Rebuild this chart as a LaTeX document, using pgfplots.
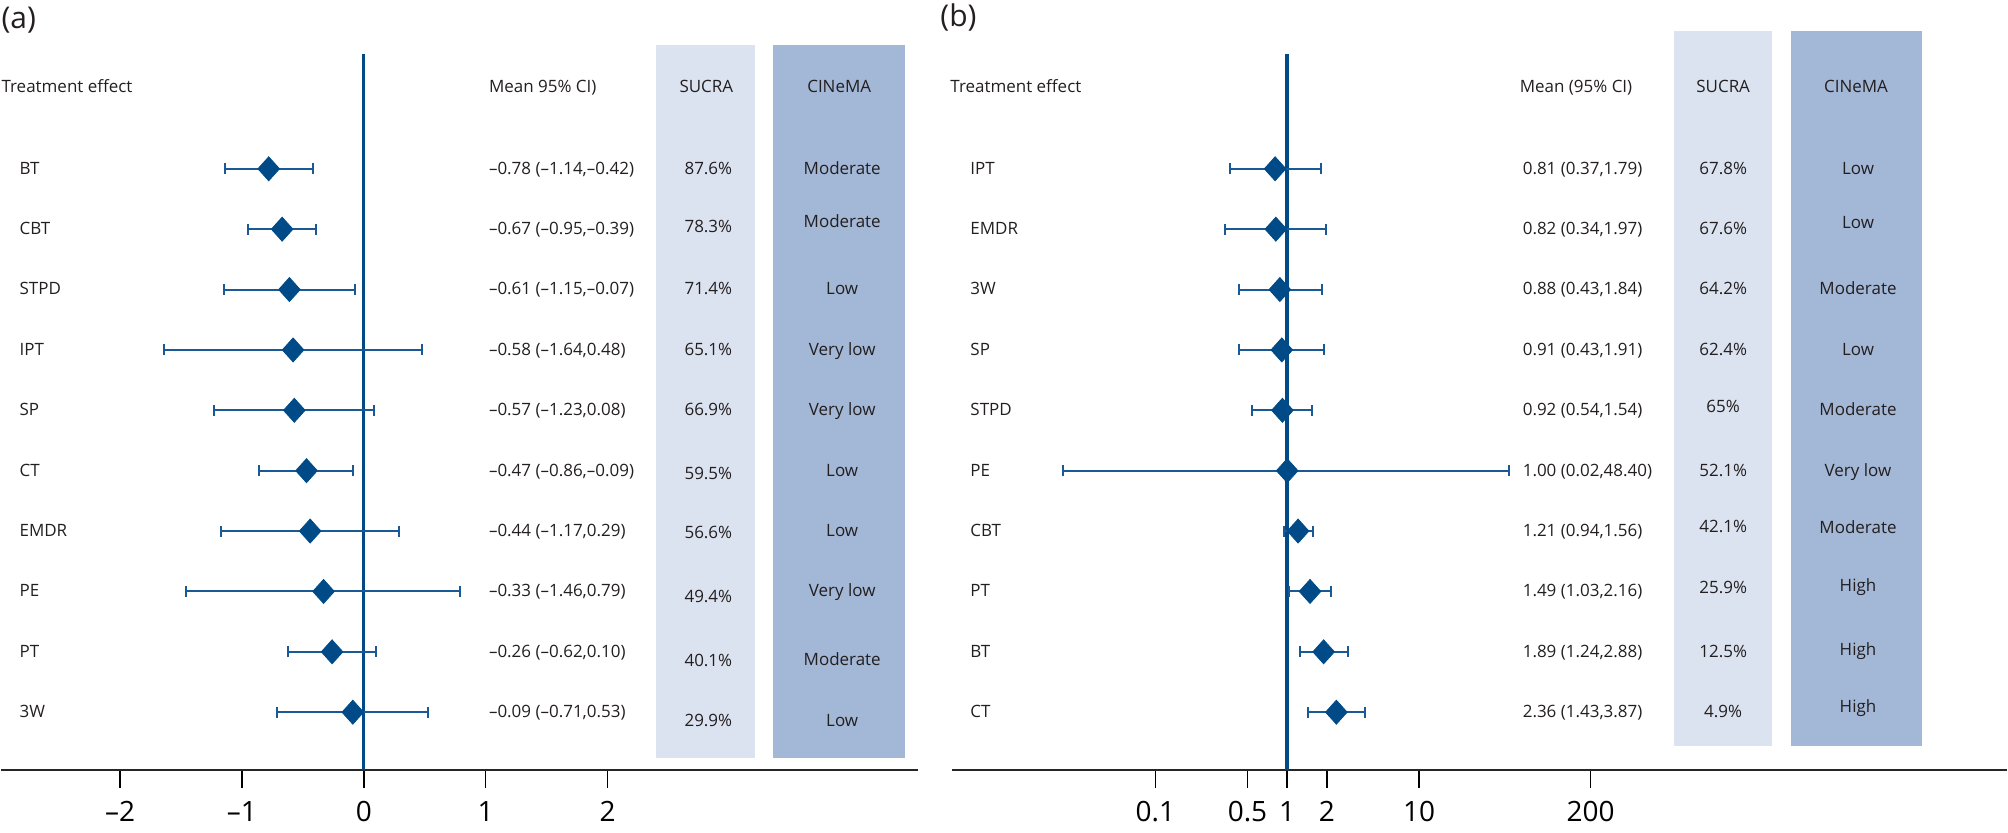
\documentclass[border=0pt]{standalone}
\usepackage{pgfplots}
\pgfplotsset{compat=1.18}
\usepackage{pgfplotstable}
\usepackage{fontspec}
\setmainfont{Open Sans}

\definecolor{fpblue}{RGB}{0,75,135}
\definecolor{cibar}{RGB}{25,90,150}
\definecolor{sucrabg}{RGB}{220,227,240}
\definecolor{cinemabg}{RGB}{163,183,214}
\definecolor{txt}{RGB}{35,31,32}

% panel (a): mean difference with 95% CI
\pgfplotstableread{
r m lo hi
1 -0.78 -1.14 -0.42
2 -0.67 -0.95 -0.39
3 -0.61 -1.15 -0.07
4 -0.58 -1.64 0.48
5 -0.57 -1.23 0.08
6 -0.47 -0.86 -0.09
7 -0.44 -1.17 0.29
8 -0.33 -1.46 0.79
9 -0.26 -0.62 0.10
10 -0.09 -0.71 0.53
}\tabA

% panel (b): ratio with 95% CI (log axis)
\pgfplotstableread{
r m lo hi
1 0.81 0.37 1.79
2 0.82 0.34 1.97
3 0.88 0.43 1.84
4 0.91 0.43 1.91
5 0.92 0.54 1.54
6 1.00 0.02 48.40
7 1.21 0.94 1.56
8 1.49 1.03 2.16
9 1.89 1.24 2.88
10 2.36 1.43 3.87
}\tabB

\pgfplotsset{
  forest/.style={
    scale only axis, clip=false,
    height=358.5pt,
    ymin=-10.9586, ymax=0.9024,
    axis y line=none, ytick=\empty,
    axis x line*=bottom,
    axis line style={line width=1.2pt, black!85},
    tick align=outside, major tick length=9pt,
    every tick/.style={black, line width=0.8pt},
    xticklabel style={font=\fontsize{14}{16}\selectfont, black, yshift=-3pt},
  },
  cis/.style={
    only marks, mark=diamond*, mark size=6pt,
    mark options={xscale=1.2, fill=fpblue, draw=fpblue},
    error bars/.cd, x dir=both, x explicit, error mark=|,
    error bar style={line width=1pt, cibar},
    error mark options={line width=1pt, mark size=2.75pt, cibar},
  },
}

\begin{document}
\begin{tikzpicture}[x=0.5pt, y=-0.5pt, every node/.style={text=txt, font=\fontsize{8.5}{10}\selectfont}]
\path (0,0) rectangle (2008,833);

% shaded columns
\fill[sucrabg] (656,45) rectangle (755,759);
\fill[cinemabg] (773,45) rectangle (905,759);
\fill[sucrabg] (1675,31) rectangle (1773,747);
\fill[cinemabg] (1792,31) rectangle (1923,747);

\begin{axis}[forest, at={(0pt,-385.5pt)}, anchor=south west,
  width=459pt, xmin=-2.9754, xmax=4.549,
  xtick={-2,-1,0,1,2}, xticklabels={–2,–1,0,1,2}]
\addplot[fpblue, line width=1.7pt, forget plot] coordinates {(0,-10.9586) (0,0.9024)};
\addplot[cis] table[x=m, y expr=-\thisrow{r},
  x error plus expr=\thisrow{hi}-\thisrow{m},
  x error minus expr=\thisrow{m}-\thisrow{lo}] {\tabA};
\end{axis}

\begin{axis}[forest, at={(476pt,-385.5pt)}, anchor=south west,
  width=528pt, xmode=log, xmin=0.002872, xmax=287300, xminorticks=false,
  xtick={0.1,0.5,1,2,10,200}, xticklabels={0.1,0.5,1,2,10,200}]
\addplot[fpblue, line width=1.7pt, forget plot] coordinates {(1,-10.9586) (1,0.9024)};
\addplot[cis] table[x=m, y expr=-\thisrow{r},
  x error plus expr=\thisrow{hi}-\thisrow{m},
  x error minus expr=\thisrow{m}-\thisrow{lo}] {\tabB};
\end{axis}

% panel labels
\node[anchor=west, inner sep=0pt, font=\fontsize{15}{17}\selectfont] at (0,20) {(a)};
\node[anchor=west, inner sep=0pt, font=\fontsize{15}{17}\selectfont] at (940,18) {(b)};

% headers
\node[anchor=mid west, inner sep=0pt] at (0,87) {Treatment effect};
\node[anchor=mid west, inner sep=0pt] at (488,87) {Mean 95\% CI)};
\node[anchor=mid] at (706,87) {SUCRA};
\node[anchor=mid] at (839,87) {CINeMA};
\node[anchor=mid west, inner sep=0pt] at (950,87) {Treatment effect};
\node[anchor=mid west, inner sep=0pt] at (1520,87) {Mean (95\% CI)};
\node[anchor=mid] at (1724,87) {SUCRA};
\node[anchor=mid] at (1857,87) {CINeMA};

% panel (a) rows
\foreach \n/\i in {BT/1,CBT/2,STPD/3,IPT/4,SP/5,CT/6,EMDR/7,PE/8,PT/9,3W/10}
  \node[anchor=mid west, inner sep=0pt] at (18,{169+60.45*(\i-1)}) {\n};
\foreach \t/\i in {{–0.78 (–1.14,–0.42)}/1,{–0.67 (–0.95,–0.39)}/2,{–0.61 (–1.15,–0.07)}/3,
  {–0.58 (–1.64,0.48)}/4,{–0.57 (–1.23,0.08)}/5,{–0.47 (–0.86,–0.09)}/6,{–0.44 (–1.17,0.29)}/7,
  {–0.33 (–1.46,0.79)}/8,{–0.26 (–0.62,0.10)}/9,{–0.09 (–0.71,0.53)}/10}
  \node[anchor=mid west, inner sep=0pt] at (488,{169+60.45*(\i-1)}) {\t};
\foreach \t/\i/\d in {87.6\%/1/0,78.3\%/2/-2,71.4\%/3/0,65.1\%/4/0,66.9\%/5/0,59.5\%/6/3,
  56.6\%/7/2,49.4\%/8/6,40.1\%/9/9,29.9\%/10/9}
  \node[anchor=mid] at (708,{169+60.45*(\i-1)+\d}) {\t};
\foreach \t/\i/\d in {Moderate/1/0,Moderate/2/-7,Low/3/0,Very low/4/0,Very low/5/0,Low/6/0,
  Low/7/0,Very low/8/0,Moderate/9/8,Low/10/9}
  \node[anchor=mid] at (842,{169+60.45*(\i-1)+\d}) {\t};

% panel (b) rows
\foreach \n/\i in {IPT/1,EMDR/2,3W/3,SP/4,STPD/5,PE/6,CBT/7,PT/8,BT/9,CT/10}
  \node[anchor=mid west, inner sep=0pt] at (970,{169+60.45*(\i-1)}) {\n};
\foreach \t/\i in {{0.81 (0.37,1.79)}/1,{0.82 (0.34,1.97)}/2,{0.88 (0.43,1.84)}/3,
  {0.91 (0.43,1.91)}/4,{0.92 (0.54,1.54)}/5,{1.00 (0.02,48.40)}/6,{1.21 (0.94,1.56)}/7,
  {1.49 (1.03,2.16)}/8,{1.89 (1.24,2.88)}/9,{2.36 (1.43,3.87)}/10}
  \node[anchor=mid west, inner sep=0pt] at (1523,{169+60.45*(\i-1)}) {\t};
\foreach \t/\i/\d in {67.8\%/1/0,67.6\%/2/0,64.2\%/3/0,62.4\%/4/0,65\%/5/-3,52.1\%/6/0,
  42.1\%/7/-4,25.9\%/8/-3,12.5\%/9/0,4.9\%/10/0}
  \node[anchor=mid] at (1724,{169+60.45*(\i-1)+\d}) {\t};
\foreach \t/\i/\d in {Low/1/0,Low/2/-6,Moderate/3/0,Low/4/0,Moderate/5/0,Very low/6/0,
  Moderate/7/-3,High/8/-5,High/9/-2,High/10/-5}
  \node[anchor=mid] at (1859,{169+60.45*(\i-1)+\d}) {\t};
\end{tikzpicture}
\end{document}
